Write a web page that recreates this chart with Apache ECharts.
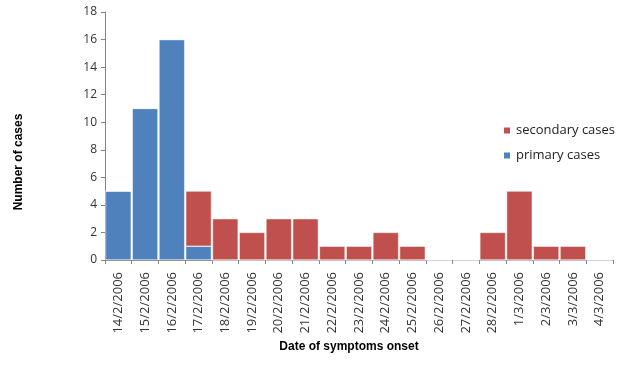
<!DOCTYPE html>
<html><head><meta charset="utf-8">
<script src="https://cdn.jsdelivr.net/npm/echarts@6/dist/echarts.min.js"></script>
<style>html,body{margin:0;padding:0;background:#fff}#c{width:636px;height:371px}</style>
</head><body><div id="c"></div>
<script>
const categories = ['14/2/2006','15/2/2006','16/2/2006','17/2/2006','18/2/2006','19/2/2006','20/2/2006','21/2/2006','22/2/2006','23/2/2006','24/2/2006','25/2/2006','26/2/2006','27/2/2006','28/2/2006','1/3/2006','2/3/2006','3/3/2006','4/3/2006'];
const primaryCases = [5,11,16,1,0,0,0,0,0,0,0,0,0,0,0,0,0,0,0];
const secondaryCases = [0,0,0,4,3,2,3,3,1,1,2,1,0,0,2,5,1,1,0];

const chart = echarts.init(document.getElementById('c'), null, {renderer:'canvas'});
const font = 'Open Sans, Liberation Sans, sans-serif';
const titleFont = 'bold 12px "Liberation Sans", Arial, sans-serif';
chart.setOption({
  animation:false,
  grid:{left:105,right:23,top:12,bottom:111,containLabel:false},
  legend:{
    orient:'vertical', left:497, top:119, itemWidth:8, itemHeight:8, itemGap:12,
    icon:'rect',
    textStyle:{fontFamily:font,fontSize:13,color:'#222'},
    data:['secondary cases','primary cases']
  },
  graphic:[
    {type:'text',left:'center',top:0,x:0,y:0,style:{text:''}},
    {type:'text',x:19,y:162,rotation:Math.PI/2,style:{text:'Number of cases',font:titleFont,fill:'#000',align:'center',verticalAlign:'middle'}},
    {type:'text',x:349,y:347,style:{text:'Date of symptoms onset',font:titleFont,fill:'#000',align:'center',verticalAlign:'middle'}}
  ],
  xAxis:{
    type:'category', data:categories, boundaryGap:true,
    axisLine:{lineStyle:{color:'#868686'}},
    axisTick:{show:true,alignWithLabel:false,length:4,lineStyle:{color:'#868686'}},
    axisLabel:{rotate:90,fontFamily:font,fontSize:13,color:'#333',margin:12,interval:0}
  },
  yAxis:{
    type:'value', min:0, max:18, interval:2,
    axisLine:{show:true,lineStyle:{color:'#868686'}},
    axisTick:{show:true,length:4,lineStyle:{color:'#868686'}},
    splitLine:{show:false},
    axisLabel:{fontFamily:font,fontSize:12,color:'#333',margin:8}
  },
  series:[
    {name:'primary cases',type:'bar',stack:'a',data:primaryCases,barCategoryGap:'4%',
     itemStyle:{color:'#4F81BD',borderColor:'#fff',borderWidth:0.5}},
    {name:'secondary cases',type:'bar',stack:'a',data:secondaryCases,barCategoryGap:'4%',
     itemStyle:{color:'#C0504D',borderColor:'#fff',borderWidth:0.5}}
  ]
});
</script></body></html>
